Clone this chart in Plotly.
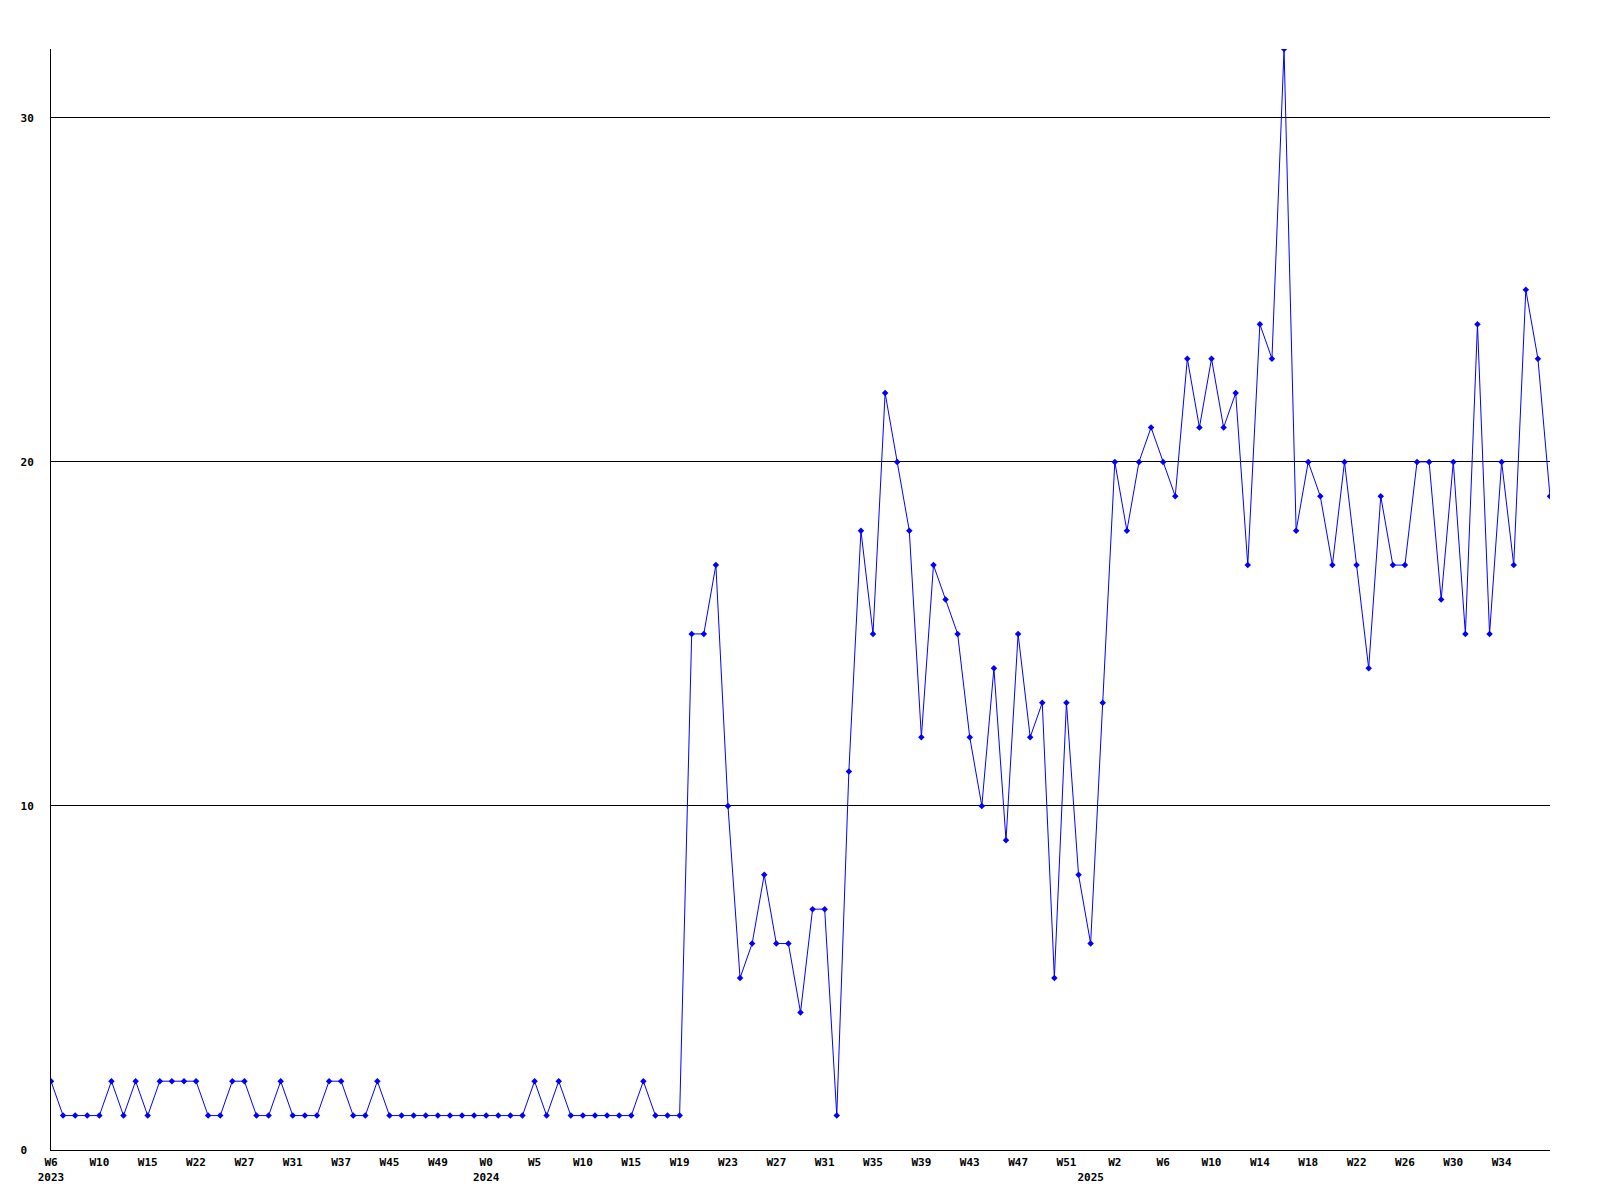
import plotly.graph_objects as go

# weekly counts, one per data point
counts = [2, 1, 1, 1, 1, 2, 1, 2, 1, 2, 2, 2, 2, 1, 1, 2, 2, 1, 1, 2,
          1, 1, 1, 2, 2, 1, 1, 2, 1, 1, 1, 1, 1, 1, 1, 1, 1, 1, 1, 1,
          2, 1, 2, 1, 1, 1, 1, 1, 1, 2, 1, 1, 1,
          15, 15, 17, 10, 5, 6, 8, 6, 6, 4, 7, 7, 1, 11, 18, 15, 22, 20,
          18, 12, 17, 16, 15, 12, 10, 14, 9, 15, 12, 13, 5, 13, 8, 6, 13,
          20, 18, 20, 21, 20, 19, 23, 21, 23, 21, 22, 17, 24, 23, 32, 18,
          20, 19, 17, 20, 17, 14, 19, 17, 17, 20, 20, 16, 20, 15, 24, 15,
          20, 17, 25, 23, 19]

# x labels shown on every 4th point
week_labels = ["W6", "W10", "W15", "W22", "W27", "W31", "W37", "W45", "W49",
               "W0", "W5", "W10", "W15", "W19", "W23", "W27", "W31", "W35",
               "W39", "W43", "W47", "W51", "W2", "W6", "W10", "W14", "W18",
               "W22", "W26", "W30", "W34"]
label_step = 4
year_pos = {0: "2023", 36: "2024", 86: "2025"}

y_ticks = [0, 10, 20, 30]

x = list(range(len(counts)))

tick_text = {}
for i, w in enumerate(week_labels):
    tick_text[i * label_step] = w
for p, yr in year_pos.items():
    tick_text[p] = tick_text.get(p, "\u00a0") + "<br>" + yr
tickvals = sorted(tick_text)
ticktext = [tick_text[v] for v in tickvals]

# pad the y labels so they line up on the left like the original
ylab = [str(v) for v in y_ticks]
wmax = max(len(s) for s in ylab)
ylab = [s + "\u00a0" * (wmax - len(s)) for s in ylab]

fig = go.Figure()
fig.add_trace(go.Scatter(
    x=x, y=counts,
    mode="lines+markers",
    line=dict(color="rgb(0,0,255)", width=1),
    marker=dict(symbol="diamond", size=5, color="rgb(0,0,255)"),
    showlegend=False,
    hoverinfo="skip",
))

fnt = dict(family="DejaVu Sans Mono", size=11, color="black", weight="bold")

# page body adds an 8px margin, so pull the plot up/left by that much
fig.update_layout(
    width=1600, height=1200,
    margin=dict(l=43, r=58, t=41, b=58),
    paper_bgcolor="white",
    plot_bgcolor="white",
    font=fnt,
    xaxis=dict(
        range=[0, len(counts) - 1],
        tickmode="array",
        tickvals=tickvals,
        ticktext=ticktext,
        tickangle=0,
        automargin=False,
        showgrid=False,
        zeroline=False,
        showline=True,
        linecolor="black",
        linewidth=1,
        ticks="",
        ticklabelstandoff=2,
        tickfont=fnt,
    ),
    yaxis=dict(
        range=[0, 32],
        tickmode="array",
        tickvals=y_ticks,
        ticktext=ylab,
        automargin=False,
        showgrid=True,
        gridcolor="black",
        gridwidth=1,
        zeroline=False,
        showline=True,
        linecolor="black",
        linewidth=1,
        ticks="",
        ticklabelstandoff=14,
        tickfont=fnt,
    ),
)

fig.write_html("out.html")
